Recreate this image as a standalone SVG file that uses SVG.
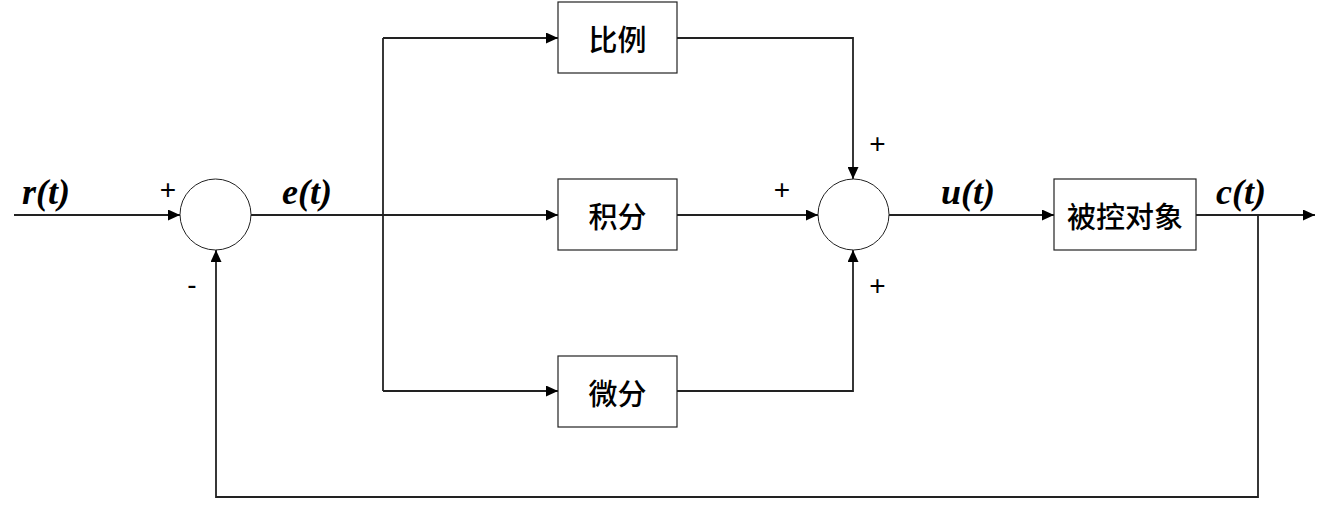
<svg xmlns="http://www.w3.org/2000/svg" width="1329" height="513" viewBox="0 0 1329 513">
<style>
.box{fill:#fff;stroke:#222;stroke-width:1.2}
.sum{fill:#fff;stroke:#222;stroke-width:1}
.ln{fill:none;stroke:#222;stroke-width:1.8}
.cn{font-family:"Noto Sans CJK SC","Noto Sans CJK JP",sans-serif;font-size:29px;font-weight:500;text-anchor:middle;dominant-baseline:central;fill:#000}
.sig{font-family:"Liberation Serif",serif;font-weight:bold;font-style:italic;font-size:36px;fill:#000}
.sg{font-family:"Liberation Sans",sans-serif;font-size:28px;text-anchor:middle;fill:#000}
</style>
<defs>
<marker id="ah" markerUnits="userSpaceOnUse" markerWidth="12" markerHeight="11" refX="12" refY="5.5" orient="auto">
<path d="M0,0 L12,5.5 L0,11 z" fill="#000"/>
</marker>
</defs>
<g id="connectors">
<path class="ln" d="M14,215 H180" marker-end="url(#ah)"/>
<path class="ln" d="M251,215 H558" marker-end="url(#ah)"/>
<path class="ln" d="M383,38 V391"/>
<path class="ln" d="M383,38 H558" marker-end="url(#ah)"/>
<path class="ln" d="M383,391 H558" marker-end="url(#ah)"/>
<path class="ln" d="M677,38 H853 V179" marker-end="url(#ah)"/>
<path class="ln" d="M677,215 H818" marker-end="url(#ah)"/>
<path class="ln" d="M677,391 H853 V250" marker-end="url(#ah)"/>
<path class="ln" d="M889,215 H1054" marker-end="url(#ah)"/>
<path class="ln" d="M1196,215 H1315" marker-end="url(#ah)"/>
<path class="ln" d="M1258,215 V497 H216 V250" marker-end="url(#ah)"/>
</g>
<g id="sum1"><circle class="sum" cx="215.5" cy="214.5" r="35.5"/></g>
<g id="sum2"><circle class="sum" cx="853.5" cy="214.5" r="35.5"/></g>
<g id="p"><rect class="box" x="558" y="2" width="119" height="71"/><text class="cn" x="617.5" y="37.5">比例</text></g>
<g id="i"><rect class="box" x="558" y="179" width="119" height="71"/><text class="cn" x="617.5" y="214.5">积分</text></g>
<g id="d"><rect class="box" x="558" y="356" width="119" height="71"/><text class="cn" x="617.5" y="391.5">微分</text></g>
<g id="plant"><rect class="box" x="1054" y="179" width="142" height="71"/><text class="cn" x="1125" y="214.5">被控对象</text></g>
<g id="labels">
<text class="sig" x="22" y="204">r(t)</text>
<text class="sig" x="282" y="204">e(t)</text>
<text class="sig" x="941" y="204">u(t)</text>
<text class="sig" x="1216" y="204">c(t)</text>
<text class="sg" x="168" y="199">+</text>
<text class="sg" x="192" y="294">-</text>
<text class="sg" x="877.5" y="153">+</text>
<text class="sg" x="782" y="199">+</text>
<text class="sg" x="877.5" y="295">+</text>
</g>
</svg>
